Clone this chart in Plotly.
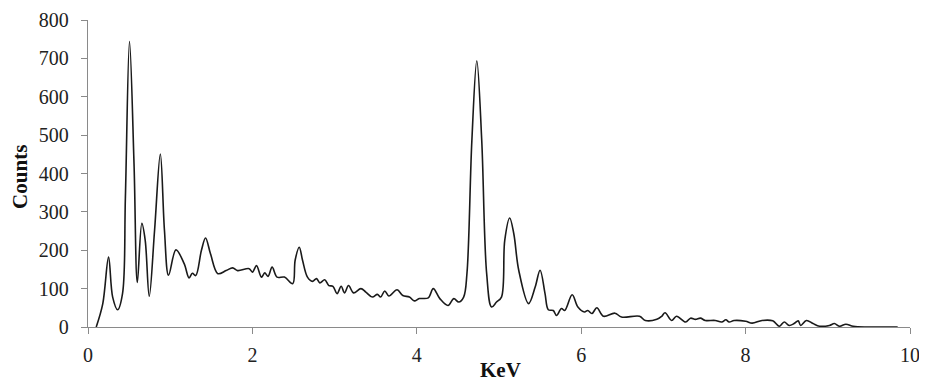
import plotly.graph_objects as go

kev = [0.10, 0.18, 0.25, 0.30, 0.36, 0.42, 0.455, 0.505, 0.56, 0.60, 0.655, 0.696, 0.745,
       0.81, 0.88, 0.93, 0.98, 1.07, 1.17, 1.23, 1.27, 1.31, 1.38, 1.43, 1.49, 1.58, 1.68,
       1.76, 1.82, 1.96, 2.00, 2.05, 2.11, 2.15, 2.19, 2.24, 2.30, 2.39, 2.49, 2.52, 2.57,
       2.61, 2.67, 2.73, 2.78, 2.82, 2.88, 2.93, 2.98, 3.03, 3.08, 3.12, 3.17, 3.23, 3.32,
       3.38, 3.46, 3.52, 3.56, 3.61, 3.66, 3.76, 3.83, 3.91, 3.97, 4.03, 4.14, 4.20, 4.28,
       4.38, 4.45, 4.51, 4.57, 4.61, 4.67, 4.73, 4.79, 4.85, 4.91, 4.97, 5.03, 5.07, 5.13,
       5.18, 5.24, 5.36, 5.44, 5.50, 5.56, 5.60, 5.66, 5.70, 5.76, 5.80, 5.89, 5.96, 6.04,
       6.08, 6.13, 6.19, 6.27, 6.41, 6.49, 6.71, 6.78, 6.92, 6.98, 7.02, 7.10, 7.16, 7.27,
       7.33, 7.39, 7.45, 7.51, 7.63, 7.71, 7.76, 7.80, 7.86, 8.00, 8.08, 8.20, 8.33, 8.41,
       8.47, 8.53, 8.59, 8.64, 8.67, 8.74, 8.82, 8.90, 9.02, 9.08, 9.14, 9.22, 9.31, 9.47,
       9.71, 9.85]
counts = [0, 61, 182, 78, 45, 87, 339, 744, 425, 116, 270, 226, 80,
          252, 451, 252, 135, 201, 165, 128, 140, 134, 200, 232, 191, 139, 147,
          154, 147, 152, 143, 160, 130, 141, 132, 156, 130, 130, 113, 174, 208,
          174, 130, 119, 126, 115, 123, 108, 106, 87, 106, 89, 108, 89, 100,
          91, 78, 85, 78, 94, 81, 97, 82, 78, 68, 74, 76, 100, 74,
          56, 74, 65, 78, 139, 486, 694, 486, 139, 52, 65, 78, 226, 284,
          243, 148, 61, 104, 148, 87, 45, 43, 30, 48, 43, 84, 52, 39,
          43, 35, 50, 28, 36, 26, 28, 17, 20, 28, 37, 17, 28, 13,
          23, 20, 23, 17, 17, 13, 19, 13, 17, 15, 10, 17, 16, 2,
          13, 4, 9, 16, 4, 17, 9, 2, 4, 9, 2, 7, 2, 0,
          0, 0]

x_ticks = [0, 2, 4, 6, 8, 10]
y_ticks = [0, 100, 200, 300, 400, 500, 600, 700, 800]
x_title = "KeV"
y_title = "Counts"

fig = go.Figure()
fig.add_trace(go.Scatter(x=kev, y=counts, mode="lines",
                         line=dict(color="#1a1a1a", width=1.6, shape="spline", smoothing=1.0),
                         showlegend=False, hoverinfo="skip"))

serif = "Liberation Serif, Times New Roman, serif"
axis_common = dict(showgrid=False, zeroline=False, showline=True, linecolor="#8a8a8a",
                   linewidth=1.3, automargin=False, ticks="outside", ticklen=6,
                   tickcolor="#8a8a8a", tickwidth=1.3)

# page body has an 8px default margin; figure is sized/margined to compensate
fig.update_layout(
    width=919, height=375,
    margin=dict(l=80, r=17, t=12, b=56),
    paper_bgcolor="white", plot_bgcolor="white",
    font=dict(family=serif, size=20, color="#222222"),
    xaxis=dict(range=[0, 10], tickvals=x_ticks, ticklabelstandoff=4, **axis_common),
    yaxis=dict(range=[0, 800], tickvals=y_ticks, ticklabelstandoff=8, **axis_common),
    annotations=[
        dict(text="<b>" + x_title + "</b>", xref="paper", yref="paper", x=0.502, y=0,
             xanchor="center", yanchor="middle", yshift=-43, showarrow=False,
             font=dict(family=serif, size=21, color="#111111")),
        dict(text="<b>" + y_title + "</b>", xref="paper", yref="paper", x=0, y=0.489,
             xanchor="center", yanchor="middle", xshift=-68, textangle=-90, showarrow=False,
             font=dict(family=serif, size=21, color="#111111")),
    ],
)
fig.write_html("out.html")
